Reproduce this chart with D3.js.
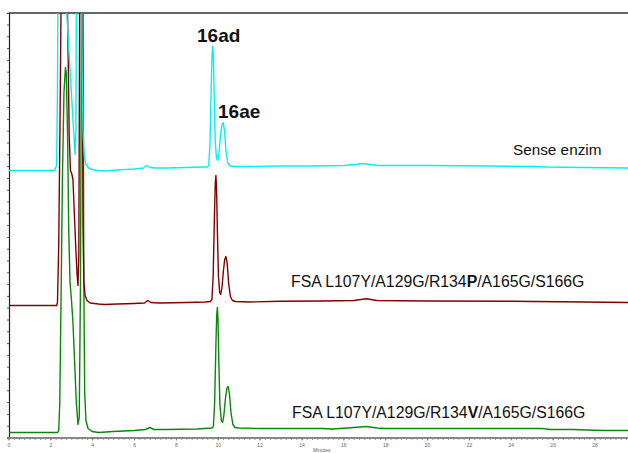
<!DOCTYPE html>
<html>
<head>
<meta charset="utf-8">
<script src="https://cdn.jsdelivr.net/npm/d3@7"></script>
<style>
  html, body { margin: 0; padding: 0; background: #fff; }
  svg { display: block; font-family: "Liberation Sans", Arial, sans-serif; }
</style>
</head>
<body>
<svg id="chart" width="628" height="453"></svg>
<script>
// ---------- DATA (time in minutes, signal above each trace's own baseline) ----------
const seriesNames = ["Sense enzim", "FSA L107Y/A129G/R134P/A165G/S166G", "FSA L107Y/A129G/R134V/A165G/S166G"];
const baselineOffsets = [267, 132, 5];   // signal units at which each trace's baseline sits
const xTickValues = [0, 2, 4, 6, 8, 10, 12, 14, 16, 18, 20, 22, 24, 26, 28];
const peakLabels = ["16ad", "16ae"];

const senseEnzim = [
  [0, 0], [2.2, 0], [2.3, 5], [2.34, 80], [2.38, 250], [2.45, 450], [2.6, 400], [2.72, 220],
  [2.8, 152], [2.9, 115], [3.0, 79], [3.1, 44], [3.18, 16], [3.22, 40], [3.26, 250], [3.32, 500],
  [3.42, 500], [3.48, 250], [3.52, 100], [3.56, 40], [3.62, 15], [3.7, 6], [3.85, 2], [4.2, 0],
  [4.6, -0.5], [5.2, 0.5], [6.0, 1.5], [6.45, 2.5], [6.6, 5], [6.75, 3], [7.0, 2.5], [7.5, 2.5],
  [8.5, 3], [9.3, 3.5], [9.5, 3.5], [9.57, 5], [9.63, 28], [9.69, 88], [9.73, 118], [9.76, 124],
  [9.79, 114], [9.83, 72], [9.88, 28], [9.94, 12], [10.0, 10], [10.06, 18], [10.13, 36], [10.2, 46],
  [10.26, 48], [10.32, 40], [10.39, 20], [10.47, 8], [10.57, 5], [10.7, 4], [11.5, 4], [13, 4.5],
  [14.5, 4.5], [16.0, 5], [16.6, 6], [16.9, 7], [17.3, 6], [17.7, 5], [20, 5], [23, 4.5],
  [25.3, 4], [25.7, 3.5], [27.5, 3], [29.6, 2.5]
];

const fsaP = [
  [0, 0], [2.3, 0], [2.34, 3], [2.4, 60], [2.46, 180], [2.52, 320], [2.65, 420], [2.78, 350],
  [2.85, 250], [2.9, 170], [2.96, 135], [3.02, 132], [3.08, 126], [3.15, 90], [3.22, 55], [3.28, 30],
  [3.32, 20], [3.36, 50], [3.40, 300], [3.46, 500], [3.52, 300], [3.56, 80], [3.6, 25], [3.66, 10],
  [3.75, 5], [3.9, 2.5], [4.3, 1.5], [4.6, 1], [5.2, 1.5], [6.0, 2], [6.5, 2.5], [6.65, 5],
  [6.8, 3], [7.2, 2.5], [8.5, 3], [9.4, 3.5], [9.65, 4], [9.72, 6], [9.78, 30], [9.84, 90],
  [9.88, 122], [9.91, 130], [9.94, 118], [9.98, 75], [10.03, 30], [10.09, 13], [10.14, 11], [10.2, 18],
  [10.27, 35], [10.33, 46], [10.39, 49], [10.45, 42], [10.52, 22], [10.6, 9], [10.7, 5], [10.85, 4],
  [11.5, 3.5], [13, 4.3], [15, 4.5], [16.5, 5], [17.1, 6.7], [17.6, 5], [20, 4.5], [24, 4.3],
  [27.5, 3.5], [29.6, 3]
];

const fsaV = [
  [0, 0], [2.35, 0], [2.4, 2], [2.45, 30], [2.52, 150], [2.58, 260], [2.65, 340], [2.72, 365],
  [2.76, 360], [2.82, 300], [2.88, 200], [2.94, 150], [3.0, 135], [3.08, 110], [3.16, 70], [3.24, 30],
  [3.32, 8], [3.38, 15], [3.44, 150], [3.5, 500], [3.56, 450], [3.6, 150], [3.64, 40], [3.7, 12],
  [3.8, 4], [4.0, 1], [4.3, 0], [5.0, 1], [6.0, 2], [6.55, 3], [6.75, 5], [6.95, 3],
  [7.5, 3], [9.0, 3.5], [9.72, 4.5], [9.79, 6], [9.85, 30], [9.91, 88], [9.95, 118], [9.98, 125],
  [10.01, 113], [10.05, 70], [10.1, 28], [10.17, 12], [10.23, 10], [10.29, 17], [10.36, 33], [10.43, 44],
  [10.5, 46], [10.56, 38], [10.63, 20], [10.72, 8], [10.82, 5], [11, 4.5], [12, 4], [14, 4],
  [15, 4], [15.5, 3.5], [16.5, 5], [17.1, 6], [17.6, 4.5], [18, 4], [22, 4], [25.5, 4],
  [25.9, 3], [27, 3], [27.6, 2.5], [28.5, 2], [29.6, 2]
];

const traces = [senseEnzim, fsaP, fsaV];

// ---------- LAYOUT ----------
const svg = d3.select("#chart");
const plot = { left: 9, right: 628, top: 13, bottom: 437.5 };

const x = d3.scaleLinear().domain([0, 29.6]).range([8.5, 628]);
const y = d3.scaleLinear().domain([0, 424.5]).range([plot.bottom, plot.top]);

svg.append("defs").append("clipPath").attr("id", "clip")
  .append("rect")
  .attr("x", plot.left).attr("y", plot.top)
  .attr("width", plot.right - plot.left).attr("height", plot.bottom - plot.top);

// top frame line
svg.append("line")
  .attr("x1", plot.left).attr("x2", plot.right)
  .attr("y1", plot.top).attr("y2", plot.top)
  .attr("stroke", "#333").attr("stroke-width", 1.3);

// left axis
const yAxis = d3.axisLeft(y)
  .tickValues(d3.range(0, 425, 11.8))
  .tickSize(2)
  .tickFormat("");
const gy = svg.append("g").attr("transform", `translate(${plot.left},0)`).call(yAxis);
gy.select(".domain").attr("stroke", "#222").attr("stroke-width", 1.2);
gy.selectAll(".tick line").attr("stroke", "#555");

// bottom axis
const gxMinor = svg.append("g").attr("transform", `translate(0,${plot.bottom})`)
  .call(d3.axisBottom(x).tickValues(d3.range(0, 29.6, 0.25)).tickSize(2.5).tickFormat(""));
gxMinor.select(".domain").remove();
gxMinor.selectAll(".tick line").attr("stroke", "#999");

const gx = svg.append("g").attr("transform", `translate(0,${plot.bottom})`)
  .call(d3.axisBottom(x).tickValues(xTickValues).tickSize(3).tickPadding(3).tickSizeOuter(0));
gx.select(".domain").attr("stroke", "#888").attr("stroke-width", 2);
gx.selectAll(".tick line").attr("stroke", "#777");
gx.selectAll(".tick text").attr("font-size", 5).attr("fill", "#666");

svg.append("text").attr("x", 313).attr("y", 452)
  .attr("font-size", 5).attr("fill", "#666").text("Minutes");

// ---------- TRACES ----------
const colors = ["#00f2f2", "#800000", "#0a870a"];
const line = (off) => d3.line().x(d => x(d[0])).y(d => y(d[1] + off));
const gl = svg.append("g").attr("clip-path", "url(#clip)");
[2, 1, 0].forEach(i => {
  gl.append("path")
    .datum(traces[i])
    .attr("fill", "none")
    .attr("stroke", colors[i])
    .attr("stroke-width", 1.4)
    .attr("stroke-linejoin", "round")
    .attr("d", line(baselineOffsets[i]));
});

// ---------- LABELS ----------
svg.append("text").attr("x", 197).attr("y", 42)
  .attr("font-size", 19).attr("font-weight", "bold").attr("fill", "#111").text(peakLabels[0]);
svg.append("text").attr("x", 218).attr("y", 118)
  .attr("font-size", 19).attr("font-weight", "bold").attr("fill", "#111").text(peakLabels[1]);

svg.append("text").attr("x", 513).attr("y", 155)
  .attr("font-size", 15.3).attr("fill", "#111").text(seriesNames[0]);

function mutantLabel(name, xPos, yPos) {
  const m = name.match(/^(.*R134)(.)(\/.*)$/);
  const t = svg.append("text").attr("x", xPos).attr("y", yPos)
    .attr("font-size", 15.8).attr("fill", "#111");
  t.append("tspan").text(m[1]);
  t.append("tspan").attr("font-weight", "bold").text(m[2]);
  t.append("tspan").text(m[3]);
}
mutantLabel(seriesNames[1], 291, 287);
mutantLabel(seriesNames[2], 292, 418);
</script>
</body>
</html>
